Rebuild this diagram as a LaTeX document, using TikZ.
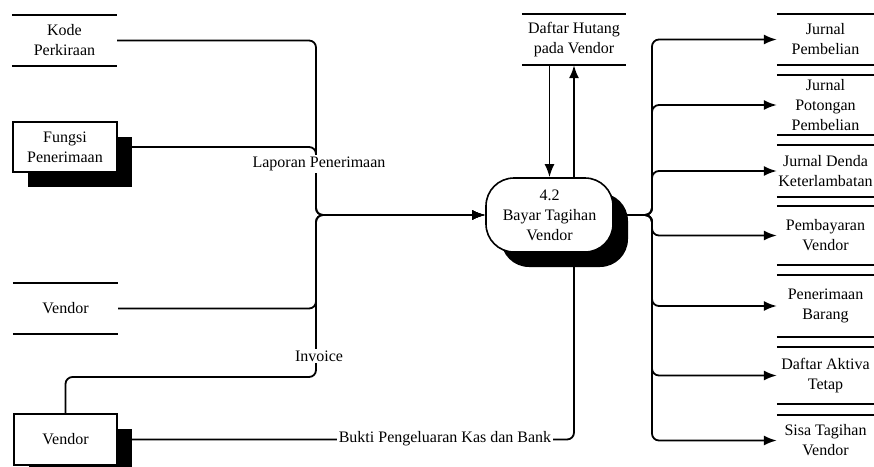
\documentclass[tikz,border=0pt]{standalone}
\usepackage{fontspec}
\setmainfont{Liberation Serif}
\usetikzlibrary{arrows.meta,shadows}

\begin{document}
\begin{tikzpicture}[x=1pt,y=-1pt,
		every node/.style={font=\fontsize{16}{20}\selectfont,align=center,inner sep=1pt},
		store/.style={minimum width=105pt,minimum height=51pt},
		rstore/.style={store,minimum width=97pt},
		storeline/.style={line width=2.4pt},
		entity/.style={draw,line width=1.2pt,fill=white,minimum width=104pt,minimum height=50pt,
			drop shadow={shadow xshift=15pt,shadow yshift=-15pt,opacity=1,fill=black}},
		process/.style={draw,line width=1.6pt,fill=white,rounded corners=28pt,minimum width=127pt,minimum height=74pt,
			drop shadow={shadow xshift=15pt,shadow yshift=-15pt,opacity=1,fill=black}},
		flow/.style={line width=1.8pt,rounded corners=7pt,-{Latex[length=13pt,width=10pt]}},
		flowlabel/.style={fill=white,inner sep=2pt}]
				\path[use as bounding box] (0,0) rectangle (874,466);
				\clip (0,0) rectangle (874,466);
				% sources on the left
				\node[store] (kode) at (64.5,40.5) {Kode\\Perkiraan};
				\node[entity] (fungsi) at (65,147) {Fungsi\\Penerimaan};
				\node[store] (vendorstore) at (65.5,308.5) {Vendor};
				\node[entity,minimum width=103pt,minimum height=51pt] (vendor) at (65.5,439.5) {Vendor};
				% the process and its stores
				\node[process] (bayar) at (549.5,215) {4.2\\Bayar Tagihan\\Vendor};
				\node[store,minimum width=104pt] (hutang) at (574,39.5) {Daftar Hutang\\pada Vendor};
				\node[rstore] (jurnalbeli) at (825.5,39.5) {Jurnal\\Pembelian};
				\node[rstore,minimum height=60pt] (jurnalpotongan) at (825.5,105) {Jurnal\\Potongan\\Pembelian};
				\node[rstore,minimum height=52pt] (jurnaldenda) at (825.5,171) {Jurnal Denda\\Keterlambatan};
				\node[rstore,minimum height=59pt] (bayarvendor) at (825.5,235.5) {Pembayaran\\Vendor};
				\node[rstore,minimum height=62pt] (terimabarang) at (825.5,306) {Penerimaan\\Barang};
				\node[rstore,minimum height=57pt] (aktiva) at (825.5,375.5) {Daftar Aktiva\\Tetap};
				\node[rstore] (sisa) at (825.5,440.5) {Sisa Tagihan\\Vendor};
				\foreach \s in {kode,vendorstore,hutang,jurnalbeli,jurnalpotongan,jurnaldenda,bayarvendor,terimabarang,aktiva}
					\draw[storeline] (\s.north west) -- (\s.north east) (\s.south west) -- (\s.south east);
				\draw[storeline] (sisa.north west) -- (sisa.north east);
				% flows in
				\coordinate (merge) at (316,215);
				\coordinate (invoicebend) at (316,377);
				\coordinate (split) at (652,215);
				\draw[flow] (kode.east) -| (merge) -- (bayar.west);
				\draw[flow] (fungsi.east) -| (merge) -- (bayar.west);
				\draw[flow] (vendorstore.east) -| (merge) -- (bayar.west);
				\draw[flow] (vendor.north) |- (invoicebend) -- (merge) -- (bayar.west);
				\draw[flow] (hutang.south -| bayar.north) -- (bayar.north);
				\draw[flow] (bayar.north -| hutang.south) -- (hutang.south);
				% flows out
				\foreach \s in {jurnalbeli,jurnalpotongan,jurnaldenda,bayarvendor,terimabarang,aktiva,sisa}
					\draw[flow] (bayar.east) -- (split) |- (\s.west);
				\draw[flow] ([xshift=24.5pt]bayar.south) |- (vendor.east);
				\node[flowlabel] (laporan) at (319,164) {Laporan Penerimaan};
				\node[flowlabel] (invoice) at (319,356) {Invoice};
				\node[flowlabel] (bukti) at (445,439) {Bukti Pengeluaran Kas dan Bank};
			\end{tikzpicture}
\end{document}
